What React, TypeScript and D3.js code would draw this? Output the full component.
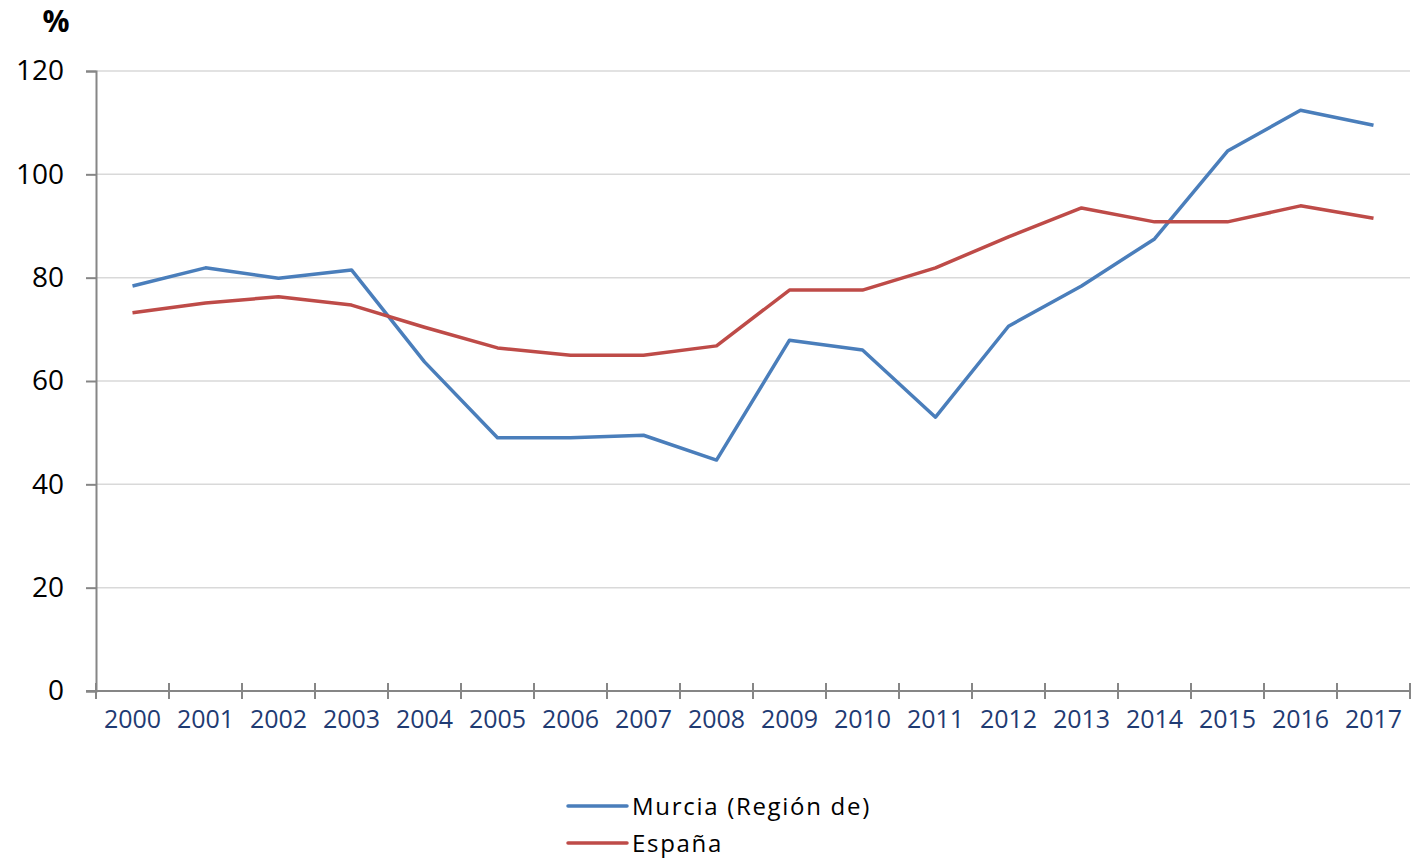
import React, { useEffect, useRef } from 'react';
import * as d3 from 'd3';

// years on the category axis
const years = [
  '2000', '2001', '2002', '2003', '2004', '2005', '2006', '2007', '2008',
  '2009', '2010', '2011', '2012', '2013', '2014', '2015', '2016', '2017',
];

// Murcia (Región de)
const murcia = [
  78.4, 81.9, 79.9, 81.5, 63.7, 49.0, 49.0, 49.5, 44.7,
  67.9, 66.0, 53.0, 70.6, 78.4, 87.5, 104.5, 112.4, 109.5,
];

// España
const espana = [
  73.2, 75.1, 76.3, 74.7, 70.4, 66.4, 65.0, 65.0, 66.8,
  77.6, 77.6, 81.9, 87.9, 93.5, 90.8, 90.8, 93.9, 91.5,
];

const yTicks = [0, 20, 40, 60, 80, 100, 120];

const seriesNames = ['Murcia (Región de)', 'España'];
const seriesColors = ['#4A7EBB', '#BE4B48'];

const App = () => {
  const svgRef = useRef<SVGSVGElement>(null);

  useEffect(() => {
    const svg = d3.select(svgRef.current);
    svg.selectAll('*').remove();

    const width = 1418;
    const height = 863;
    const margin = { top: 71, right: 8, bottom: 172, left: 96 };
    const font = '"Open Sans", sans-serif';

    svg.attr('width', width).attr('height', height);

    const x = d3
      .scaleBand()
      .domain(years)
      .range([margin.left, width - margin.right]);

    const y = d3
      .scaleLinear()
      .domain([0, 120])
      .range([height - margin.bottom, margin.top]);

    // gridlines
    svg.append('g')
      .selectAll('line')
      .data(yTicks.filter((t) => t > 0))
      .enter()
      .append('line')
      .attr('x1', margin.left)
      .attr('x2', width - margin.right)
      .attr('y1', (d) => y(d))
      .attr('y2', (d) => y(d))
      .attr('stroke', '#D9D9D9')
      .attr('stroke-width', 1.5);

    // y axis
    const yAxis = svg.append('g')
      .attr('transform', `translate(${margin.left},0)`)
      .call(d3.axisLeft(y).tickValues(yTicks).tickSize(10).tickPadding(22));
    yAxis.select('.domain').attr('stroke', '#868686').attr('stroke-width', 2);
    yAxis.selectAll('.tick line').attr('stroke', '#868686').attr('stroke-width', 2);
    yAxis.selectAll('text')
      .style('font-family', font)
      .style('font-size', '28px')
      .attr('fill', '#000');

    // x axis: ticks on band boundaries
    const xAxisY = y(0);
    const xg = svg.append('g');
    xg.append('line')
      .attr('x1', margin.left - 10)
      .attr('x2', width - margin.right)
      .attr('y1', xAxisY)
      .attr('y2', xAxisY)
      .attr('stroke', '#868686')
      .attr('stroke-width', 2);
    const bounds = years.map((d) => x(d) as number).concat([width - margin.right]);
    xg.selectAll('.xt')
      .data(bounds)
      .enter()
      .append('line')
      .attr('x1', (d) => d)
      .attr('x2', (d) => d)
      .attr('y1', xAxisY - 8)
      .attr('y2', xAxisY + 8)
      .attr('stroke', '#868686')
      .attr('stroke-width', 2);
    xg.selectAll('.xl')
      .data(years)
      .enter()
      .append('text')
      .attr('x', (d) => (x(d) as number) + x.bandwidth() / 2)
      .attr('y', xAxisY + 37)
      .attr('text-anchor', 'middle')
      .style('font-family', font)
      .style('font-size', '25px')
      .attr('fill', '#1F3B73')
      .text((d) => d);

    // "%" label
    svg.append('text')
      .attr('x', 56)
      .attr('y', 32)
      .attr('text-anchor', 'middle')
      .style('font-family', font)
      .style('font-size', '30px')
      .style('font-weight', 'bold')
      .text('%');

    // lines
    const line = d3
      .line<number>()
      .x((_, i) => (x(years[i]) as number) + x.bandwidth() / 2)
      .y((d) => y(d));

    [murcia, espana].forEach((s, i) => {
      svg.append('path')
        .datum(s)
        .attr('d', line)
        .attr('fill', 'none')
        .attr('stroke', seriesColors[i])
        .attr('stroke-width', 3.5)
        .attr('stroke-linejoin', 'round');
    });

    // legend
    const lg = svg.append('g');
    seriesNames.forEach((name, i) => {
      const ly = 806 + i * 37;
      lg.append('line')
        .attr('x1', 568)
        .attr('x2', 627)
        .attr('y1', ly)
        .attr('y2', ly)
        .attr('stroke', seriesColors[i])
        .attr('stroke-width', 3.5)
        .attr('stroke-linecap', 'round');
      lg.append('text')
        .attr('x', 632)
        .attr('y', ly + 9)
        .style('font-family', font)
        .style('font-size', '24px')
        .style('letter-spacing', '1.7px')
        .attr('fill', '#000')
        .text(name);
    });
  }, []);

  return (
    <div style={{ position: 'absolute', left: 0, top: 0 }}>
      <svg ref={svgRef}></svg>
    </div>
  );
};

export default App;
